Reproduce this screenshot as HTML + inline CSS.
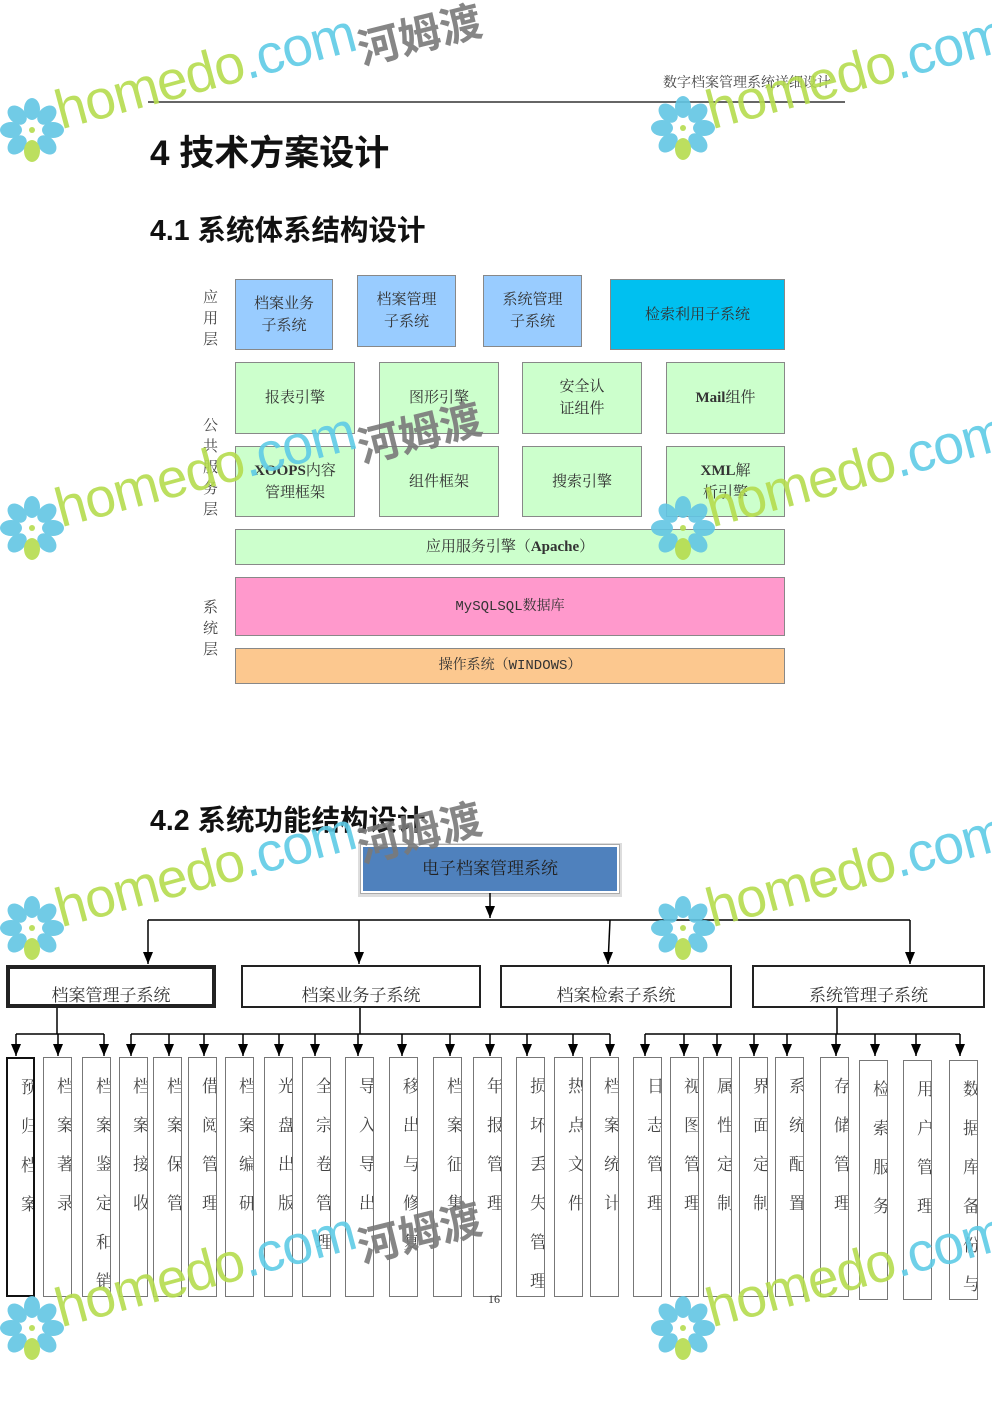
<!DOCTYPE html>
<html><head><meta charset="utf-8"><style>
*{margin:0;padding:0;box-sizing:border-box}
body{width:992px;height:1403px;background:#fff;position:relative;overflow:hidden;font-family:"Liberation Serif","Noto Serif CJK SC",serif;color:#222}
.a{position:absolute}
.b{position:absolute;border:1px solid #888;display:flex;align-items:center;justify-content:center;text-align:center;font-size:15px;line-height:22px;color:#333}
.bl{background:#99ccff}.gr{background:#ccffcc}
.h{font-family:"Liberation Sans","Noto Sans CJK SC",sans-serif;font-weight:bold;color:#111}
.lab{position:absolute;font-size:15px;line-height:21px;width:16px;color:#444}
.v{position:absolute;top:1057px;height:240px;width:29px;border:1px solid #777;overflow:hidden;padding-left:13px;padding-top:7px;font-size:17px;line-height:39px;color:#444;font-family:"Noto Serif CJK SC",serif;white-space:pre-line}
.sb{position:absolute;top:965px;height:43px;border:2px solid #222;display:flex;align-items:center;justify-content:center;font-size:17px;color:#333;padding-top:14px}
.wm{position:absolute;width:600px;height:200px;opacity:.9}
.wt{position:absolute;left:64px;top:80px;font-family:"Liberation Sans",sans-serif;font-size:55px;line-height:60px;letter-spacing:-1px;transform-origin:0 100%;transform:rotate(-15deg);white-space:nowrap;color:#b5dc4e}
.wt span{color:#5fcbe6}
.wc{position:absolute;left:356px;top:2px;font-family:"Noto Sans CJK SC",sans-serif;font-weight:bold;font-size:42px;color:#7a7a7a;transform:rotate(-14deg);white-space:nowrap}
</style></head><body>

<div class="a" style="left:663px;top:72px;font-size:14px;color:#444">数字档案管理系统详细设计</div>
<div class="a" style="left:148px;top:101px;width:697px;height:2px;background:#666"></div>
<div class="a h" style="left:150px;top:125px;font-size:35px">4 技术方案设计</div>
<div class="a h" style="left:150px;top:208px;font-size:28.5px">4.1 系统体系结构设计</div>

<div class="lab" style="left:203px;top:288px">应<br>用<br>层</div>
<div class="lab" style="left:203px;top:416px">公<br>共<br>服<br>务<br>层</div>
<div class="lab" style="left:203px;top:598px">系<br>统<br>层</div>

<div class="b bl" style="left:235px;top:279px;width:98px;height:71px">档案业务<br>子系统</div>
<div class="b bl" style="left:357px;top:275px;width:99px;height:72px">档案管理<br>子系统</div>
<div class="b bl" style="left:483px;top:275px;width:99px;height:72px">系统管理<br>子系统</div>
<div class="b" style="left:610px;top:279px;width:175px;height:71px;background:#00c0f0">检索利用子系统</div>

<div class="b gr" style="left:235px;top:362px;width:120px;height:72px">报表引擎</div>
<div class="b gr" style="left:379px;top:362px;width:120px;height:72px">图形引擎</div>
<div class="b gr" style="left:522px;top:362px;width:120px;height:72px">安全认<br>证组件</div>
<div class="b gr" style="left:666px;top:362px;width:119px;height:72px"><span><b>Mail</b>组件</span></div>

<div class="b gr" style="left:235px;top:446px;width:120px;height:71px"><span><b>XOOPS</b>内容<br>管理框架</span></div>
<div class="b gr" style="left:379px;top:446px;width:120px;height:71px">组件框架</div>
<div class="b gr" style="left:522px;top:446px;width:120px;height:71px">搜索引擎</div>
<div class="b gr" style="left:666px;top:446px;width:119px;height:71px"><span><b>XML</b>解<br>析引擎</span></div>

<div class="b gr" style="left:235px;top:529px;width:550px;height:36px"><span>应用服务引擎（<b>Apache</b>）</span></div>
<div class="b" style="left:235px;top:577px;width:550px;height:59px;background:#ff99cc;font-family:'Liberation Mono','Noto Serif CJK SC',monospace;font-size:14px">MySQLSQL数据库</div>
<div class="b" style="left:235px;top:648px;width:550px;height:36px;background:#fcc88f;font-family:'Liberation Mono','Noto Serif CJK SC',monospace;font-size:14px">操作系统（WINDOWS）</div>

<div class="a h" style="left:150px;top:798px;font-size:28.5px">4.2 系统功能结构设计</div>
<div class="a" style="left:358px;top:843px;width:264px;height:54px;background:#ddd"></div>
<div class="b" style="left:361px;top:845px;width:258px;height:48px;background:#4f81bd;border:2px solid #fff;outline:1px solid #aaa;font-size:17px;color:#222">电子档案管理系统</div>

<svg class="a" style="left:0;top:0" width="992" height="1403">
<defs>
<marker id="ad" markerWidth="10" markerHeight="12" refX="5" refY="12" orient="0" markerUnits="userSpaceOnUse"><path d="M0,0 L10,0 L5,12 z" fill="#000"/></marker></defs>
<g stroke="#000" stroke-width="1.5" fill="none">
<line x1="490" y1="893" x2="490" y2="918" marker-end="url(#ad)"/>
<line x1="148" y1="920" x2="910" y2="920"/>
<line x1="148" y1="920" x2="148" y2="964" marker-end="url(#ad)"/>
<line x1="359" y1="920" x2="359" y2="964" marker-end="url(#ad)"/>
<line x1="610" y1="920" x2="608" y2="964" marker-end="url(#ad)"/>
<line x1="910" y1="920" x2="910" y2="964" marker-end="url(#ad)"/>
<line x1="57" y1="1008" x2="57" y2="1034"/>
<line x1="360" y1="1008" x2="360" y2="1034"/>
<line x1="837" y1="1008" x2="837" y2="1034"/>
<line x1="16" y1="1034" x2="104" y2="1034"/>
<line x1="131" y1="1034" x2="610" y2="1034"/>
<line x1="645" y1="1034" x2="960" y2="1034"/>
</g>
<g stroke="#000" stroke-width="1.5">
<line x1="16" y1="1034" x2="16" y2="1056" marker-end="url(#ad)"/>
<line x1="58" y1="1034" x2="58" y2="1056" marker-end="url(#ad)"/>
<line x1="104" y1="1034" x2="104" y2="1056" marker-end="url(#ad)"/>
<line x1="131" y1="1034" x2="131" y2="1056" marker-end="url(#ad)"/>
<line x1="169" y1="1034" x2="169" y2="1056" marker-end="url(#ad)"/>
<line x1="204" y1="1034" x2="204" y2="1056" marker-end="url(#ad)"/>
<line x1="243" y1="1034" x2="243" y2="1056" marker-end="url(#ad)"/>
<line x1="279" y1="1034" x2="279" y2="1056" marker-end="url(#ad)"/>
<line x1="315" y1="1034" x2="315" y2="1056" marker-end="url(#ad)"/>
<line x1="358" y1="1034" x2="358" y2="1056" marker-end="url(#ad)"/>
<line x1="402" y1="1034" x2="402" y2="1056" marker-end="url(#ad)"/>
<line x1="450" y1="1034" x2="450" y2="1056" marker-end="url(#ad)"/>
<line x1="490" y1="1034" x2="490" y2="1056" marker-end="url(#ad)"/>
<line x1="527" y1="1034" x2="527" y2="1056" marker-end="url(#ad)"/>
<line x1="573" y1="1034" x2="573" y2="1056" marker-end="url(#ad)"/>
<line x1="610" y1="1034" x2="610" y2="1056" marker-end="url(#ad)"/>
<line x1="645" y1="1034" x2="645" y2="1056" marker-end="url(#ad)"/>
<line x1="684" y1="1034" x2="684" y2="1056" marker-end="url(#ad)"/>
<line x1="717" y1="1034" x2="717" y2="1056" marker-end="url(#ad)"/>
<line x1="754" y1="1034" x2="754" y2="1056" marker-end="url(#ad)"/>
<line x1="787" y1="1034" x2="787" y2="1056" marker-end="url(#ad)"/>
<line x1="836" y1="1034" x2="836" y2="1056" marker-end="url(#ad)"/>
<line x1="875" y1="1034" x2="875" y2="1056" marker-end="url(#ad)"/>
<line x1="916" y1="1034" x2="916" y2="1056" marker-end="url(#ad)"/>
<line x1="960" y1="1034" x2="960" y2="1056" marker-end="url(#ad)"/>
</g>
</svg>

<div class="sb" style="left:6px;width:210px;border-width:4px">档案管理子系统</div>
<div class="sb" style="left:241px;width:240px">档案业务子系统</div>
<div class="sb" style="left:500px;width:232px">档案检索子系统</div>
<div class="sb" style="left:752px;width:233px">系统管理子系统</div>

<div class="v" style="left:6px;border-color:#111;border-width:2px">预
归
档
案</div>
<div class="v" style="left:43px">档
案
著
录</div>
<div class="v" style="left:82px">档
案
鉴
定
和
销</div>
<div class="v" style="left:119px">档
案
接
收</div>
<div class="v" style="left:153px">档
案
保
管</div>
<div class="v" style="left:188px">借
阅
管
理</div>
<div class="v" style="left:225px">档
案
编
研</div>
<div class="v" style="left:264px">光
盘
出
版</div>
<div class="v" style="left:302px">全
宗
卷
管
理</div>
<div class="v" style="left:345px">导
入
导
出</div>
<div class="v" style="left:389px">移
出
与
修
复</div>
<div class="v" style="left:433px">档
案
征
集</div>
<div class="v" style="left:473px">年
报
管
理</div>
<div class="v" style="left:516px">损
坏
丢
失
管
理</div>
<div class="v" style="left:554px">热
点
文
件</div>
<div class="v" style="left:590px">档
案
统
计</div>
<div class="v" style="left:633px">日
志
管
理</div>
<div class="v" style="left:670px">视
图
管
理</div>
<div class="v" style="left:703px">属
性
定
制</div>
<div class="v" style="left:739px">界
面
定
制</div>
<div class="v" style="left:775px">系
统
配
置</div>
<div class="v" style="left:820px">存
储
管
理</div>
<div class="v" style="left:859px;top:1060px">检
索
服
务</div>
<div class="v" style="left:903px;top:1060px">用
户
管
理</div>
<div class="v" style="left:949px;top:1060px">数
据
库
备
份
与</div>
<div class="a" style="left:488px;top:1292px;font-size:12px;color:#333">16</div>

<svg width="0" height="0" style="position:absolute"><defs>
<g id="fl"><g fill="#62c6e4">
<ellipse cx="32" cy="11" rx="8" ry="11"/><ellipse cx="32" cy="11" rx="8" ry="11" transform="rotate(45 32 32)"/>
<ellipse cx="32" cy="11" rx="8" ry="11" transform="rotate(90 32 32)"/><ellipse cx="32" cy="11" rx="8" ry="11" transform="rotate(135 32 32)"/>
<ellipse cx="32" cy="11" rx="8" ry="11" transform="rotate(225 32 32)"/><ellipse cx="32" cy="11" rx="8" ry="11" transform="rotate(270 32 32)"/>
<ellipse cx="32" cy="11" rx="8" ry="11" transform="rotate(315 32 32)"/></g>
<ellipse cx="32" cy="53" rx="8" ry="11" fill="#b5dc4e"/><circle cx="32" cy="32" r="3" fill="#b5dc4e"/></g></defs></svg>

<div class="wm" style="left:0;top:0"><svg class="a" style="left:0;top:98px" width="64" height="66"><use href="#fl"/></svg><div class="wt">homedo<span>.com</span></div><div class="wc">河姆渡</div></div>
<div class="wm" style="left:651px;top:0"><svg class="a" style="left:0;top:96px" width="64" height="66"><use href="#fl"/></svg><div class="wt">homedo<span>.com</span></div></div>
<div class="wm" style="left:0;top:398px"><svg class="a" style="left:0;top:98px" width="64" height="66"><use href="#fl"/></svg><div class="wt">homedo<span>.com</span></div><div class="wc">河姆渡</div></div>
<div class="wm" style="left:651px;top:398px"><svg class="a" style="left:0;top:98px" width="64" height="66"><use href="#fl"/></svg><div class="wt">homedo<span>.com</span></div></div>
<div class="wm" style="left:0;top:798px"><svg class="a" style="left:0;top:98px" width="64" height="66"><use href="#fl"/></svg><div class="wt">homedo<span>.com</span></div><div class="wc">河姆渡</div></div>
<div class="wm" style="left:651px;top:798px"><svg class="a" style="left:0;top:98px" width="64" height="66"><use href="#fl"/></svg><div class="wt">homedo<span>.com</span></div></div>
<div class="wm" style="left:0;top:1198px"><svg class="a" style="left:0;top:98px" width="64" height="66"><use href="#fl"/></svg><div class="wt">homedo<span>.com</span></div><div class="wc">河姆渡</div></div>
<div class="wm" style="left:651px;top:1198px"><svg class="a" style="left:0;top:98px" width="64" height="66"><use href="#fl"/></svg><div class="wt">homedo<span>.com</span></div></div>
</body></html>
